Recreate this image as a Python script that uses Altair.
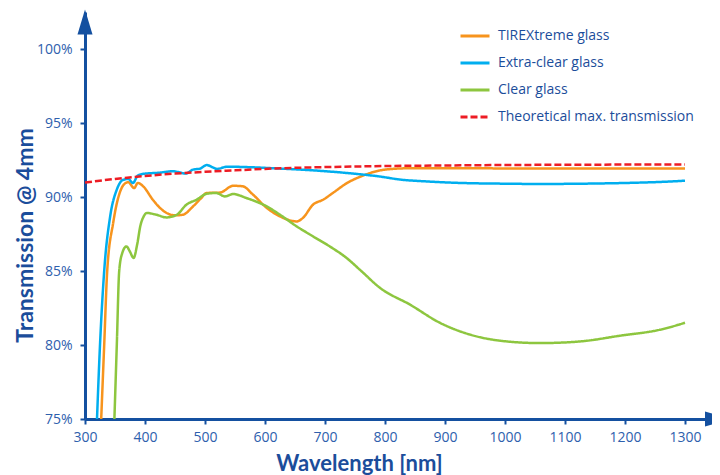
import altair as alt
import pandas as pd

# ---------------- data ----------------
SERIES = ["TIREXtreme glass", "Extra-clear glass", "Clear glass",
          "Theoretical max. transmission"]
COLORS = ["#f7941d", "#00aeef", "#8dc63f", "#ed1c24"]
DASHES = [[1, 0], [1, 0], [1, 0], [7, 3]]

tirex_wl = [327, 332, 337, 347, 358, 365, 372, 382, 388, 397, 413, 425, 436,
            450, 463, 480, 493, 503, 525, 547, 563, 580, 603, 625, 653, 663,
            680, 697, 713, 737, 763, 792, 813, 850, 900, 1000, 1100, 1200, 1300]
tirex_t = [75.0, 80.0, 85.0, 88.26, 90.3, 90.85, 91.0, 90.6, 90.95, 90.72,
           89.82, 89.26, 88.92, 88.76, 88.8, 89.36, 89.9, 90.27, 90.3, 90.76,
           90.72, 90.16, 89.26, 88.69, 88.35, 88.58, 89.48, 89.82, 90.27,
           90.95, 91.44, 91.8, 91.9, 91.95, 91.95, 91.93, 91.92, 91.92, 91.92]

extra_wl = [320, 325, 332, 342, 353, 363, 372, 380, 388, 400, 420, 447, 458,
            468, 480, 492, 503, 513, 520, 537, 570, 625, 680, 737, 792, 825,
            870, 925, 1000, 1058, 1130, 1203, 1260, 1300]
extra_t = [75.0, 80.0, 85.0, 88.7, 90.5, 91.15, 91.22, 90.95, 91.45, 91.58,
           91.63, 91.74, 91.66, 91.58, 91.85, 91.92, 92.16, 92.0, 91.9, 92.05,
           92.02, 91.92, 91.8, 91.62, 91.38, 91.18, 91.05, 90.95, 90.9, 90.88,
           90.9, 90.95, 91.02, 91.1]

clear_wl = [349, 353, 357, 362, 369, 375, 381, 387, 392, 398, 403, 419, 436,
            453, 469, 486, 503, 519, 533, 547, 569, 603, 625, 653, 680, 708,
            736, 758, 792, 842, 892, 942, 992, 1058, 1125, 1192, 1258, 1300]
clear_t = [75.0, 80.0, 85.0, 86.2, 86.66, 86.3, 85.88, 86.8, 88.0, 88.7,
           88.92, 88.8, 88.62, 88.8, 89.48, 89.82, 90.22, 90.27, 90.04, 90.2,
           89.93, 89.36, 88.8, 88.01, 87.34, 86.66, 85.88, 85.09, 83.85, 82.72,
           81.49, 80.7, 80.29, 80.13, 80.24, 80.63, 81.03, 81.5]

theo_wl = [300, 350, 400, 450, 500, 550, 600, 700, 800, 900, 1000, 1100,
           1200, 1300]
theo_t = [90.98, 91.22, 91.42, 91.58, 91.7, 91.8, 91.9, 92.02, 92.09, 92.13,
          92.16, 92.18, 92.19, 92.2]

X_TICKS = list(range(300, 1301, 100))
Y_TICKS = [75, 80, 85, 90, 95, 100]
X_START, X_END = 300, 1345      # axis line extent (arrow beyond the last tick)
Y_START, Y_END = 75, 102.5

# ---------------- styling ----------------
AXIS = "#1450a0"
LABEL = "#2e60ad"
TITLE = "#1b4d9b"
FONT = "Open Sans"
TFONT = "Lato"

rows = []
for name, wl, tv in zip(SERIES, [tirex_wl, extra_wl, clear_wl, theo_wl],
                        [tirex_t, extra_t, clear_t, theo_t]):
    for a, b in zip(wl, tv):
        rows.append({"wl": a, "t": b, "series": name})
df = pd.DataFrame(rows)

x_scale = alt.Scale(domain=[X_START, X_END], nice=False, zero=False)
y_scale = alt.Scale(domain=[Y_START, Y_END], nice=False, zero=False)

x_axis = alt.Axis(values=X_TICKS, format="d", title="Wavelength [nm]",
                  grid=False, domainColor=AXIS, domainWidth=3,
                  tickColor=AXIS, tickWidth=2, tickSize=5,
                  labelColor=LABEL, labelFontSize=14, labelPadding=6,
                  labelFlush=False, labelFont=FONT,
                  titleFont=TFONT, titleFontSize=22,
                  titleFontWeight="bold", titleColor=TITLE,
                  titleX=274, titleY=51, titleBaseline="alphabetic",
                  titleAlign="center")
y_axis = alt.Axis(values=Y_TICKS, format="d", labelExpr="datum.label + '%'",
                  title="Transmission @ 4mm", grid=False,
                  domainColor=AXIS, domainWidth=3, tickColor=AXIS,
                  tickWidth=2, tickSize=5, labelColor=LABEL, labelFontSize=14,
                  labelPadding=8, labelFlush=False, labelFont=FONT,
                  titleFont=TFONT,
                  titleFontSize=23, titleFontWeight="bold", titleColor=TITLE,
                  titleX=-53, titleY=223, titleAngle=270,
                  titleBaseline="alphabetic", titleAlign="center")

legend = alt.Legend(title=None, orient="none", legendX=374, legendY=8,
                    symbolType="stroke", symbolSize=841, symbolStrokeWidth=3,
                    labelFont=FONT, labelFontSize=14, labelColor=TITLE,
                    labelOffset=7, rowPadding=4, padding=0, labelLimit=400)

lines = alt.Chart(df).mark_line(strokeWidth=2.5, interpolate="monotone").encode(
    x=alt.X("wl:Q", scale=x_scale, axis=x_axis),
    y=alt.Y("t:Q", scale=y_scale, axis=y_axis),
    color=alt.Color("series:N", scale=alt.Scale(domain=SERIES, range=COLORS),
                    legend=legend, sort=SERIES),
    strokeDash=alt.StrokeDash("series:N",
                              scale=alt.Scale(domain=SERIES, range=DASHES),
                              legend=legend, sort=SERIES),
)

UP_PATH = "M-0.6,1.8L0,-0.2L0.6,1.8Z"
RIGHT_PATH = "M-0.56,-0.6L1.44,0L-0.56,0.6Z"

up_arrow = alt.Chart(pd.DataFrame({"wl": [X_START], "t": [Y_END]})).mark_point(
    shape=UP_PATH, size=625, filled=True, color=AXIS, opacity=1, strokeWidth=0
).encode(x=alt.X("wl:Q", scale=x_scale, axis=x_axis),
         y=alt.Y("t:Q", scale=y_scale, axis=y_axis))

right_arrow = alt.Chart(pd.DataFrame({"wl": [X_END], "t": [Y_START]})).mark_point(
    shape=RIGHT_PATH, size=625, filled=True, color=AXIS, opacity=1, strokeWidth=0
).encode(x=alt.X("wl:Q", scale=x_scale, axis=x_axis),
         y=alt.Y("t:Q", scale=y_scale, axis=y_axis))

chart = alt.layer(lines, up_arrow, right_arrow).properties(
    width=627, height=407,
    autosize=alt.AutoSizeParams(type="none"),
    padding={"left": 77, "top": 4, "right": 0, "bottom": 58},
).configure(font=FONT).configure_view(stroke=None)

chart.save("out.html", embed_options={"renderer": "svg", "actions": False})
